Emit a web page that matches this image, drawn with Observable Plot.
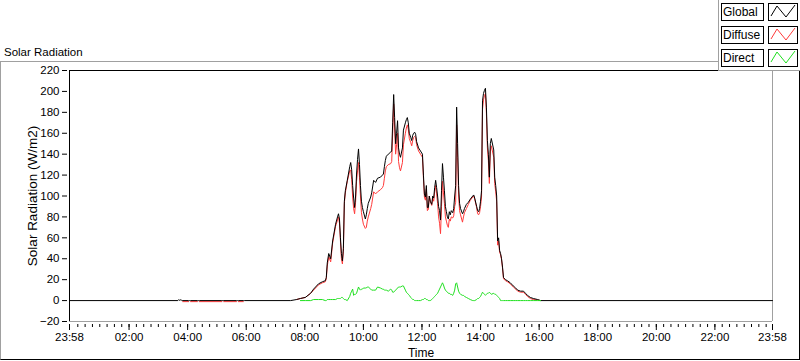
<!DOCTYPE html>
<html><head><meta charset="utf-8">
<script src="https://cdn.jsdelivr.net/npm/d3@7"></script>
<script src="https://cdn.jsdelivr.net/npm/@observablehq/plot@0.6"></script>
<style>
html,body{margin:0;padding:0;background:#fff;}
#wrap{position:relative;width:800px;height:361px;overflow:hidden;font-family:"Liberation Sans",Arial,sans-serif;color:#000;}
#panel{position:absolute;left:0;top:61px;width:800px;height:299px;box-sizing:border-box;border-left:1px solid #a0a0a0;border-top:1px solid #a0a0a0;border-right:1px solid #000;border-bottom:1px solid #000;}
#title{position:absolute;left:4px;top:47px;font-size:11.5px;line-height:11.5px;white-space:nowrap;}
#chart{position:absolute;left:0;top:0;}
#legend{position:absolute;left:718px;top:0;width:82px;height:71px;box-sizing:border-box;background:#fff;border-left:1px solid #a0a0a0;border-bottom:1px solid #a0a0a0;}
.lab{position:absolute;left:2px;width:43px;height:18px;box-sizing:border-box;border:1px solid #000;font-size:12px;line-height:16px;padding-left:1px;white-space:nowrap;}
.sw{position:absolute;left:49px;width:30px;height:18px;box-sizing:border-box;border:1px solid #000;}
.sw svg{position:absolute;left:0;top:0;}
</style></head>
<body>
<div id="wrap">
  <div id="panel"></div>
  <div id="chart"></div>
  <div id="title"></div>
  <div id="legend"></div>
</div>
<script>
const chartTitle = "Solar Radiation";
const yLabel = "Solar Radiation (W/m2)";
const xLabel = "Time";
const seriesNames = ["Global", "Diffuse", "Direct"];
const seriesColors = ["#000000", "#ff3a3a", "#1fe01f"];
const yTicks = [-20, 0, 20, 40, 60, 80, 100, 120, 140, 160, 180, 200, 220];
const xTickTimes = ["23:58", "02:00", "04:00", "06:00", "08:00", "10:00", "12:00", "14:00", "16:00", "18:00", "20:00", "22:00", "23:58"];

const times = [
  "23:58","03:40","03:42","03:44","03:46","03:48","03:50","04:02","04:04","04:06",
  "04:20","04:22","04:24","05:10","05:12","05:14","05:40","05:42","05:44","05:54","05:56",
  "07:31","07:43","07:51","08:01","08:12","08:18","08:28","08:36","08:42","08:44",
  "08:46","08:49","08:53","08:57","09:03","09:07","09:09","09:11","09:13","09:15",
  "09:17","09:19","09:21","09:23","09:27","09:32","09:34","09:36","09:38","09:40",
  "09:42","09:44","09:46","09:48","09:50","09:52","09:54","09:56","09:58","10:00",
  "10:04","10:06","10:08","10:10","10:15","10:17","10:21","10:25","10:29","10:35",
  "10:39","10:41","10:43","10:45","10:47","10:51","10:56","10:58","11:00","11:02",
  "11:04","11:06","11:08","11:10","11:12","11:14","11:16","11:20","11:22","11:26",
  "11:28","11:30","11:32","11:34","11:37","11:39","11:41","11:43","11:45","11:47",
  "11:49","11:53","11:57","12:01","12:03","12:05","12:07","12:09","12:11","12:13",
  "12:15","12:17","12:20","12:22","12:24","12:26","12:28","12:30","12:32","12:34",
  "12:36","12:38","12:40","12:42","12:44","12:46","12:48","12:50","12:52","12:54",
  "12:56","12:58","13:00","13:03","13:05","13:07","13:09","13:11","13:13","13:15",
  "13:17","13:19","13:23","13:25","13:27","13:31","13:35","13:39","13:44","13:46",
  "13:48","13:52","13:54","13:56","13:58","14:00","14:02","14:04","14:06","14:08",
  "14:10","14:12","14:14","14:16","14:18","14:20","14:22","14:27","14:29","14:31",
  "14:33","14:35","14:37","14:39","14:41","14:43","14:45","14:47","14:51","14:55",
  "15:01","15:07","15:12","15:16","15:22","15:28","15:32","15:36","15:42","15:48",
  "15:57","16:03","23:58"
];

const globalWm2 = [
  0, 0, 1, 0, 1, 0, 0, 0, 0, 0,
  0, 0, 0, 0, 0, 0, 0, 0, 0, 0, 0,
  0, 1, 2, 3, 7, 11, 16, 18, 19, 22,
  36, 45, 40, 57, 73, 80, 83, 78, 60, 45,
  38, 50, 95, 105, 115, 128, 132, 125, 110, 98,
  89, 100, 121, 135, 145, 130, 110, 95, 89, 85,
  78, 82, 88, 93, 99, 103, 115, 113, 117, 118,
  120, 121, 128, 134, 138, 140, 142, 143, 170, 197,
  175, 150, 160, 172, 146, 140, 137, 146, 163, 170,
  173, 175, 170, 160, 156, 153, 158, 160, 161, 159,
  152, 146, 143, 140, 120, 102, 99, 110, 89, 89,
  100, 95, 92, 100, 98, 108, 115, 108, 100, 90,
  86, 77, 105, 131, 118, 105, 90, 85, 80, 78,
  85, 82, 86, 84, 88, 100, 110, 185, 150, 110,
  93, 88, 83, 85, 88, 92, 94, 97, 100, 101,
  98, 90, 86, 85, 88, 95, 105, 191, 198, 201,
  203, 185, 153, 140, 118, 150, 155, 144, 118, 110,
  100, 57, 60, 48, 45, 40, 32, 22, 20, 19,
  17, 14, 12, 10, 9, 9, 7, 5, 3, 2,
  1, 0, 0
];

const diffuseWm2 = [
  null, null, null, null, null, null, -1, -1, null, -1,
  -1, null, -1, -1, null, -1, -1, null, -1, -1, null,
  null, 1, 2, 3, 7, 10, 15, 17, 18, 21,
  33, 42, 37, 55, 71, 77, 80, 74, 57, 40,
  35, 47, 93, 103, 114, 124, 125, 116, 99, 88,
  83, 94, 114, 124, 132, 118, 100, 84, 78, 73,
  69, 70, 76, 80, 88, 92, 104, 102, 104, 106,
  108, 110, 117, 124, 128, 130, 131, 133, 160, 188,
  165, 140, 149, 160, 133, 127, 124, 132, 149, 160,
  165, 168, 164, 155, 151, 148, 153, 156, 157, 156,
  149, 143, 140, 137, 117, 99, 96, 107, 86, 87,
  100, 95, 91, 98, 95, 104, 110, 102, 93, 80,
  74, 64, 90, 114, 103, 93, 80, 76, 72, 70,
  78, 76, 80, 79, 81, 90, 94, 168, 137, 101,
  86, 82, 75, 80, 84, 88, 92, 96, 99, 100,
  97, 89, 83, 82, 84, 90, 99, 183, 192, 196,
  198, 179, 146, 134, 112, 143, 148, 137, 112, 104,
  95, 53, 57, 46, 44, 39, 31, 21, 19, 18,
  16, 13, 11, 9, 8, 8, 6, 4, 2, 1,
  0.5, 0, null
];

const directWm2 = [
  null, null, null, null, null, null, null, null, null, null,
  null, null, null, null, null, null, null, null, null, null, null,
  null, null, 0, 0, 0, 1, 1, 1, 0, 0,
  1, 1, 1, 1, 1, 2, 2, 2, 2, 3,
  3, 2, 1, 1, 0, 4, 7, 9, 11, 5,
  6, 6, 7, 10, 13, 11, 10, 11, 11, 12,
  12, 12, 13, 13, 11, 10, 10, 10, 13, 12,
  11, 11, 10, 10, 10, 9, 11, 10, 8, 8,
  9, 10, 11, 12, 13, 13, 13, 14, 14, 10,
  8, 7, 6, 5, 3, 2, 1, 1, 0, 0,
  0, 0, 0, 1, 1, 2, 2, 1, 1, 0,
  0, 0, 1, 2, 3, 4, 5, 6, 7, 9,
  11, 13, 15, 17, 15, 12, 10, 9, 8, 7,
  7, 6, 6, 5, 7, 10, 16, 17, 13, 9,
  7, 6, 5, 5, 4, 3, 2, 1, 0, 0,
  0, 1, 2, 2, 3, 4, 6, 8, 7, 6,
  5, 6, 7, 7, 8, 7, 6, 7, 6, 6,
  5, 4, 3, 2, 0, 0, 0, 0, 0, 0,
  0, 0, 0, 0, 0, 0, 0, 0, 0, 0,
  0, 0, null
];

// "23:58" as the first entry means the previous evening (2 minutes before midnight)
function toMin(s, i) {
  const [h, m] = s.split(":").map(Number);
  let v = h * 60 + m;
  if (i === 0 && v > 720) v -= 1440;
  return v;
}

const rows = times.map((s, i) => ({t: toMin(s, i), g: globalWm2[i], d: diffuseWm2[i], r: directWm2[i]}));
const xTicks = xTickTimes.map((s, i) => toMin(s, i));
const xFmt = new Map(xTicks.map((v, i) => [v, xTickTimes[i]]));
const xMin = xTicks[0], xMax = xTicks[xTicks.length - 1];
const yMin = yTicks[0], yMax = yTicks[yTicks.length - 1];
const minorTicks = d3.range(15, 1440, 15);
const font = "Liberation Sans, Arial, sans-serif";

const chart = Plot.plot({
  width: 800,
  height: 361,
  marginLeft: 69,
  marginRight: 28,
  marginTop: 70,
  marginBottom: 40,
  x: {domain: [xMin, xMax]},
  y: {domain: [yMin, yMax]},
  style: {background: "transparent", fontFamily: font, fontSize: "11.5px", color: "#000"},
  marks: [
    Plot.ruleX([xMax], {stroke: "#a0a0a0", strokeWidth: 1}),
    Plot.ruleY([yMin], {stroke: "#a0a0a0", strokeWidth: 1}),
    Plot.ruleX([xMin], {stroke: "#000", strokeWidth: 1}),
    Plot.ruleY([yMax], {stroke: "#000", strokeWidth: 1}),
    Plot.line(rows, {x: "t", y: "d", stroke: seriesColors[1], strokeWidth: 1}),
    Plot.line(rows, {x: "t", y: "g", stroke: seriesColors[0], strokeWidth: 1}),
    Plot.line(rows, {x: "t", y: "r", stroke: seriesColors[2], strokeWidth: 1}),
    Plot.axisY(yTicks, {tickSize: 5, tickPadding: 3, dx: -2, label: null, fontSize: 11.5}),
    Plot.axisX(xTicks, {tickSize: 6, tickPadding: 2, dy: 3, tickFormat: d => xFmt.get(d), label: null, fontSize: 11.5}),
    Plot.axisX(minorTicks, {tickSize: 3, dy: 3, tickFormat: () => "", label: null}),
    Plot.text([yLabel], {text: d => d, frameAnchor: "left", textAnchor: "middle", rotate: -90, dx: -37, fontSize: 13.5}),
    Plot.text([xLabel], {text: d => d, frameAnchor: "bottom", dy: 35, fontSize: 12})
  ]
});
document.getElementById("chart").appendChild(chart);
document.getElementById("title").textContent = chartTitle;

const legend = document.getElementById("legend");
seriesNames.forEach((name, i) => {
  const top = 3 + i * 23;
  const lab = document.createElement("div");
  lab.className = "lab";
  lab.style.top = top + "px";
  lab.textContent = name;
  legend.appendChild(lab);
  const sw = document.createElement("div");
  sw.className = "sw";
  sw.style.top = top + "px";
  sw.innerHTML = `<svg width="28" height="16"><polyline points="2,12 8,2 17,13 26,1" fill="none" stroke="${seriesColors[i]}" stroke-width="1"/></svg>`;
  legend.appendChild(sw);
});
</script>
</body></html>
